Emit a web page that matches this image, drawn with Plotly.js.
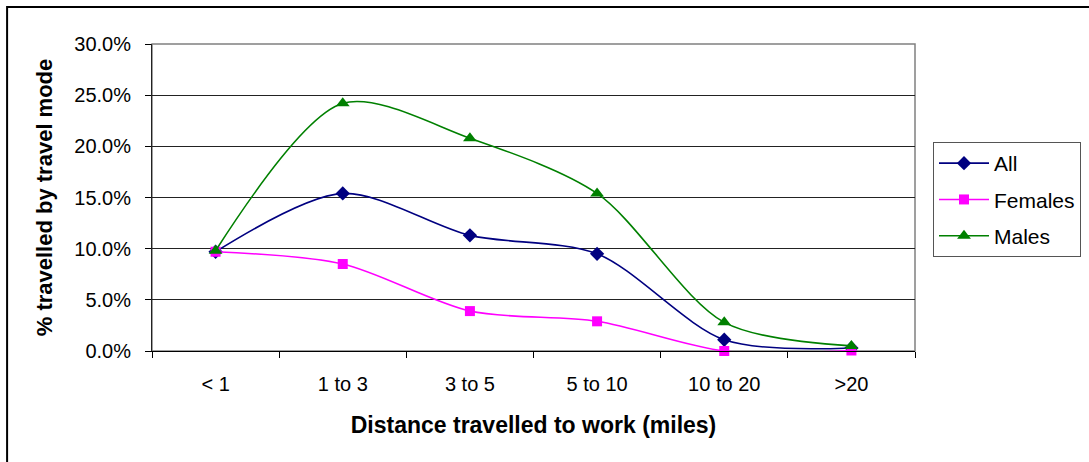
<!DOCTYPE html>
<html>
<head>
<meta charset="utf-8">
<script src="https://cdn.plot.ly/plotly-3.0.1.min.js"></script>
<style>
  html, body { margin: 0; padding: 0; background: #fff; }
  #chart { width: 1089px; height: 462px; }
</style>
</head>
<body>
<div id="chart"></div>
<script>
const categories = ["< 1", "1 to 3", "3 to 5", "5 to 10", "10 to 20", ">20"];
const allValues = [9.7, 15.4, 11.3, 9.5, 1.1, 0.3];
const femaleValues = [9.7, 8.5, 3.9, 2.9, 0.0, 0.05];
const maleValues = [9.8, 24.2, 20.8, 15.4, 2.8, 0.5];
const seriesNames = ["All", "Females", "Males"];
const yTitle = "% travelled by travel mode";
const xTitle = "Distance travelled to work (miles)";

const W = 1089, H = 462;
const L = 151.5, R = 915, T = 43.5, B = 351.5;
const pw = R - L, ph = B - T;
function px(x) { return (x - L) / pw; }
function py(y) { return (B - y) / ph; }

const font = "Arial, 'Liberation Sans', sans-serif";

function trace(name, y, color, symbol, size) {
  return {
    type: "scatter", mode: "lines+markers", name: name, legendgroup: name,
    x: categories, y: y,
    line: { color: color, width: 1.6, shape: "spline", smoothing: 0.85 },
    marker: { color: color, symbol: symbol, size: size, line: { width: 0 } },
    cliponaxis: false
  };
}

const data = [
  trace(seriesNames[0], allValues, "#000080", "diamond", 11),
  trace(seriesNames[1], femaleValues, "#FF00FF", "square", 10),
  trace(seriesNames[2], maleValues, "#008000", "triangle-up", 12)
];

const layout = {
  width: W, height: H,
  margin: { l: L, r: W - R, t: T, b: H - B, pad: 0, autoexpand: false },
  paper_bgcolor: "#ffffff", plot_bgcolor: "#ffffff",
  font: { family: font, size: 20, color: "#000" },
  showlegend: true,
  legend: {
    xref: "container", yref: "container",
    x: 933 / W, y: 1 - 142 / H, xanchor: "left", yanchor: "top",
    bordercolor: "#555", borderwidth: 1, bgcolor: "#fff",
    font: { family: font, size: 21, color: "#000" },
    itemwidth: 50, tracegroupgap: 6, traceorder: "grouped"
  },
  xaxis: {
    type: "category", tickson: "boundaries",
    showgrid: false, zeroline: false, automargin: false,
    showline: true, linecolor: "#000", linewidth: 1,
    ticks: "outside", ticklen: 6, tickcolor: "#000",
    ticklabelstandoff: 15,
    tickfont: { family: font, size: 20, color: "#000" },
    title: { text: xTitle, font: { family: font, size: 23, color: "#000", weight: "bold" }, standoff: 22 },
    range: [-0.5, 5.5], fixedrange: true
  },
  yaxis: {
    range: [0, 30], dtick: 5, tick0: 0,
    tickformat: ".1f", ticksuffix: "%", automargin: false,
    showgrid: true, gridcolor: "#222", gridwidth: 1,
    zeroline: false,
    showline: true, linecolor: "#222", linewidth: 1,
    ticks: "outside", ticklen: 6, tickcolor: "#000",
    ticklabelstandoff: 10,
    tickfont: { family: font, size: 20, color: "#000" },
    title: { text: yTitle, font: { family: font, size: 22, color: "#000", weight: "bold" }, standoff: 15 },
    fixedrange: true
  },
  shapes: [
    { type: "rect", xref: "paper", yref: "paper", x0: 0, x1: 1, y0: 0, y1: 1,
      line: { color: "#808080", width: 1.5 }, layer: "below" },
    { type: "rect", xref: "paper", yref: "paper",
      x0: px(6.5), x1: px(1100), y0: py(480), y1: py(6.5),
      line: { color: "#000", width: 2 }, fillcolor: "rgba(0,0,0,0)", layer: "below" }
  ]
};

Plotly.newPlot("chart", data, layout, { staticPlot: true, displayModeBar: false });
</script>
</body>
</html>
